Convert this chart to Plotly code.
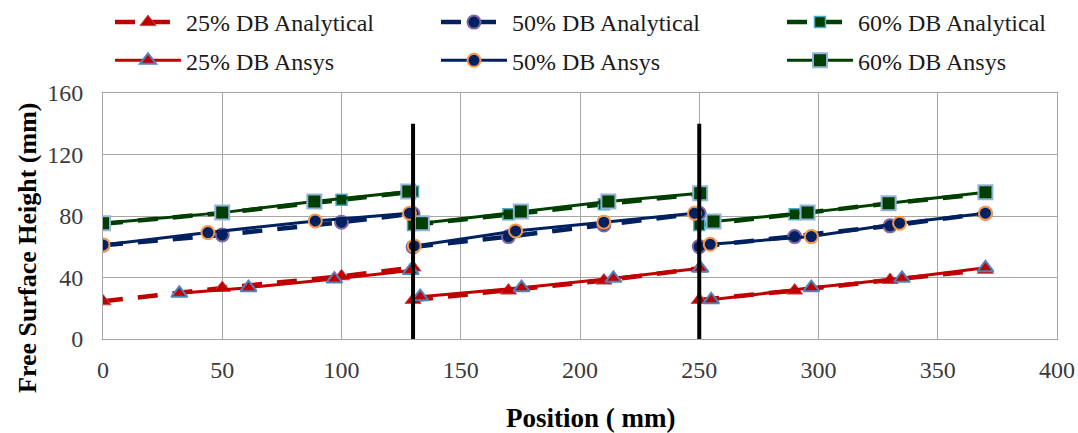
import plotly.graph_objects as go

# ---- data ----
x_analytical = [0, 50, 100, 130, None, 130, 170, 210, 250, None, 250, 290, 330, 370]
y25_analytical = [24.5, 33.2, 40.8, 46.5, None, 25.4, 31.5, 38.0, 46.0, None, 25.4, 31.5, 38.4, 45.0]
y50_analytical = [61.0, 67.7, 76.0, 81.5, None, 59.8, 66.6, 74.2, 81.8, None, 60.1, 66.6, 73.6, 81.8]
y60_analytical = [75.0, 82.0, 90.5, 95.9, None, 74.2, 81.2, 87.7, 94.2, None, 74.2, 81.2, 88.3, 94.5]

x25_ansys = [32, 61, 97, 129, None, 133, 175.5, 214, 250.5, None, 255, 297, 335, 370]
y25_ansys = [29.7, 33.4, 39.0, 44.5, None, 27.5, 33.4, 39.5, 46.0, None, 25.5, 33.4, 39.5, 46.3]
x50_ansys = [0, 44, 89, 128.5, None, 130.5, 173, 210, 248, None, 254.6, 297, 334, 370]
y50_ansys = [61.2, 69.2, 76.8, 81.8, None, 60.5, 70.3, 76.0, 81.8, None, 61.6, 66.6, 75.3, 81.8]
x60_ansys = [0, 50, 88.6, 128, None, 133.7, 175.2, 211.9, 250.4, None, 256, 295.4, 329.4, 370]
y60_ansys = [75.3, 82.2, 89.4, 95.9, None, 75.3, 82.9, 89.4, 94.8, None, 76.4, 82.2, 88.3, 95.5]

divider_x = [130, 250]
divider_y = [0, 140]

names = ["25% DB Analytical", "50% DB Analytical", "60% DB Analytical",
         "25% DB Ansys", "50% DB Ansys", "60% DB Ansys"]

RED = "#C00000"
NAVY = "#002060"
GREEN = "#003F00"
FONT = "Liberation Serif"
DASH = "20px,15px"

W, H = 1078, 433

fig = go.Figure()

# analytical (dashed)
fig.add_trace(go.Scatter(x=x_analytical, y=y25_analytical, name=names[0], mode="lines+markers",
                         line=dict(color=RED, width=4.5, dash=DASH),
                         marker=dict(symbol="triangle-up", size=14, color=RED, line=dict(color="#C0504D", width=1)),
                         legend="legend", legendgroup="a25"))
fig.add_trace(go.Scatter(x=x_analytical, y=y50_analytical, name=names[1], mode="lines+markers",
                         line=dict(color=NAVY, width=4.5, dash=DASH),
                         marker=dict(symbol="circle", size=13, color=NAVY, line=dict(color="#8064A2", width=2)),
                         legend="legend2", legendgroup="a50"))
fig.add_trace(go.Scatter(x=x_analytical, y=y60_analytical, name=names[2], mode="lines+markers",
                         line=dict(color=GREEN, width=4.5, dash=DASH),
                         marker=dict(symbol="square", size=11, color=GREEN, line=dict(color="#4BACC6", width=1.5)),
                         legend="legend3", legendgroup="a60"))
# ansys (solid)
fig.add_trace(go.Scatter(x=x25_ansys, y=y25_ansys, name=names[3], mode="lines+markers",
                         line=dict(color=RED, width=3),
                         marker=dict(symbol="triangle-up", size=14, color=RED, line=dict(color="#4F81BD", width=2)),
                         legend="legend", legendgroup="b25"))
fig.add_trace(go.Scatter(x=x50_ansys, y=y50_ansys, name=names[4], mode="lines+markers",
                         line=dict(color=NAVY, width=3),
                         marker=dict(symbol="circle", size=13, color=NAVY, line=dict(color="#F79646", width=2)),
                         legend="legend2", legendgroup="b50"))
fig.add_trace(go.Scatter(x=x60_ansys, y=y60_ansys, name=names[5], mode="lines+markers",
                         line=dict(color=GREEN, width=3),
                         marker=dict(symbol="square", size=14, color=GREEN, line=dict(color="#95B3D7", width=2)),
                         legend="legend3", legendgroup="b60"))

for xv in divider_x:
    fig.add_trace(go.Scatter(x=[xv, xv], y=divider_y, mode="lines",
                             line=dict(color="black", width=4), showlegend=False, hoverinfo="skip"))

GRID = "#A6A6A6"
axis_common = dict(showgrid=True, gridcolor=GRID, gridwidth=1, showline=True, linecolor=GRID,
                   linewidth=1, mirror=True, zeroline=False, automargin=False,
                   tickfont=dict(family=FONT, size=24, color="#3A3A3A"), ticks="")

fig.update_xaxes(range=[0, 400], dtick=50, tick0=0, ticklabelstandoff=9, **axis_common)
fig.update_yaxes(range=[0, 160], dtick=40, tick0=0, ticklabelstandoff=14, **axis_common)

leg_common = dict(orientation="v", xref="container", yref="container", yanchor="top", xanchor="left",
                  font=dict(family=FONT, size=24, color="#1A1A1A"), bgcolor="rgba(0,0,0,0)",
                  itemwidth=66, tracegroupgap=4, borderwidth=0)

L, T, PW, PH = 103, 93, 954, 246

fig.update_layout(
    width=W, height=H,
    margin=dict(l=L, r=W - L - PW, t=T, b=H - T - PH, autoexpand=False),
    plot_bgcolor="white", paper_bgcolor="white",
    legend=dict(x=110 / W, y=1, **leg_common),
    legend2=dict(x=436 / W, y=1, **leg_common),
    legend3=dict(x=782 / W, y=1, **leg_common),
    annotations=[
        dict(text="<b>Position ( mm)</b>", xref="paper", yref="paper", x=(590 - L) / PW,
             y=(339 - 418) / PH, xanchor="center", yanchor="middle", showarrow=False,
             font=dict(family=FONT, size=27, color="black")),
        dict(text="<b>Free Surface Height (mm)</b>", xref="paper", yref="paper", x=(27 - L) / PW,
             y=(339 - 248) / PH, xanchor="center", yanchor="middle", showarrow=False, textangle=-90,
             font=dict(family=FONT, size=26, color="black")),
    ],
)

fig.write_html("out.html", config={"displayModeBar": False},
               post_script="document.body.style.margin='0px';document.body.style.overflow='hidden';")
